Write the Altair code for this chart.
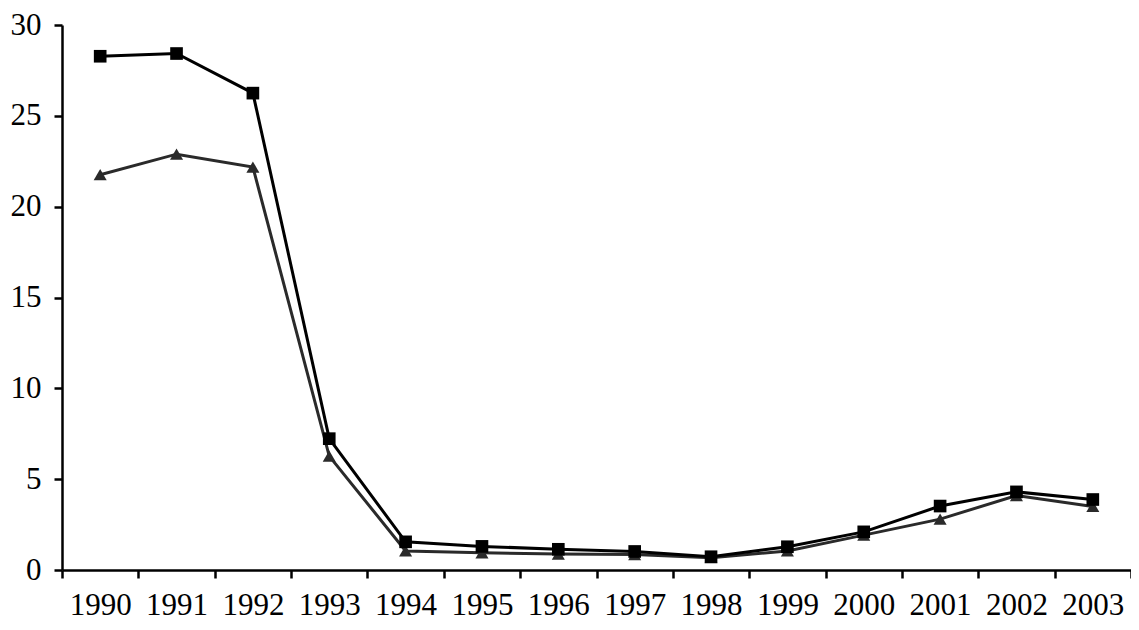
import altair as alt
import pandas as pd

years = ["1990", "1991", "1992", "1993", "1994", "1995", "1996",
         "1997", "1998", "1999", "2000", "2001", "2002", "2003"]
squares = [28.28, 28.43, 26.25, 7.23, 1.55, 1.30, 1.14, 1.02, 0.73, 1.28, 2.10, 3.52, 4.30, 3.88]
triangles = [21.76, 22.89, 22.18, 6.27, 1.05, 0.95, 0.88, 0.85, 0.68, 1.05, 1.92, 2.80, 4.10, 3.50]
y_ticks = [0, 5, 10, 15, 20, 25, 30]

df = pd.DataFrame({
    "year": years * 2,
    "value": squares + triangles,
    "series": ["squares"] * len(years) + ["triangles"] * len(years),
})

x = alt.X("year:O", sort=years,
          scale=alt.Scale(type="band", paddingInner=0, paddingOuter=0),
          axis=alt.Axis(title=None, labelAngle=0, tickBand="extent",
                        labelBaseline="alphabetic", labelPadding=36,
                        labelFlush=False))
y = alt.Y("value:Q", scale=alt.Scale(domain=[0, 30], nice=False),
          axis=alt.Axis(title=None, values=y_ticks, labelPadding=13))

def series_layer(name, color, shape, size):
    d = df[df.series == name]
    line = alt.Chart(d).mark_line(color=color, strokeWidth=3).encode(x=x, y=y)
    pts = alt.Chart(d).mark_point(shape=shape, filled=True, color=color,
                                  size=size, opacity=1).encode(x=x, y=y)
    return line + pts

chart = alt.layer(
    series_layer("triangles", "#2a2a2a", "triangle-up", 170),
    series_layer("squares", "#000000", "square", 160),
).properties(
    width=1069, height=545,
    autosize=alt.AutoSizeParams(type="none"),
    padding={"left": 54, "top": 17, "right": 0, "bottom": 52},
).configure_view(stroke=None).configure_axis(
    grid=False, domainColor="black", domainWidth=2.5,
    tickColor="black", tickWidth=2.5, tickSize=8,
    labelFont="Liberation Serif", labelFontSize=31, labelColor="black",
)

chart.save("out.html", embed_options={"renderer": "svg", "actions": False})
